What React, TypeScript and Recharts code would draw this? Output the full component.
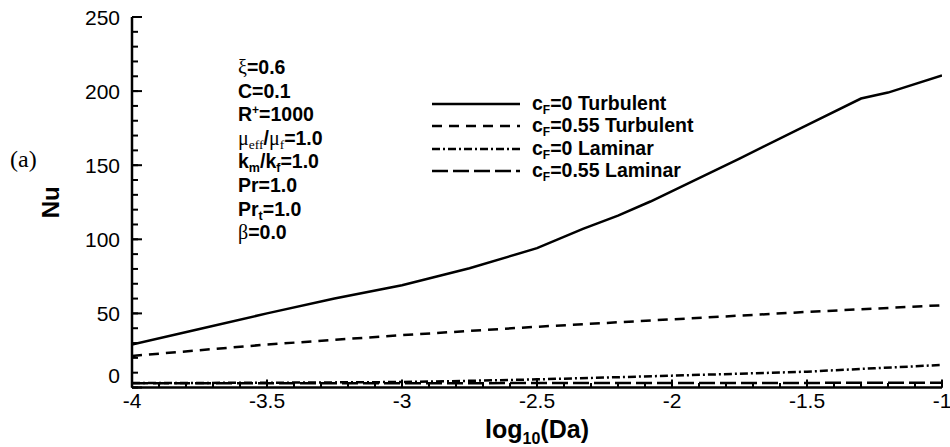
import React from "react"
import { LineChart, Line, XAxis, YAxis, Legend } from "recharts"

// log10(Da) sample points and Nu values for each case
const X_TURB_CF0 = [-4, -3.75, -3.5, -3.25, -3, -2.75, -2.5, -2.33, -2.2, -2.08, -1.75, -1.5, -1.3, -1.2, -1]
const NU_TURB_CF0 = [29, 39.5, 50, 60, 69, 80.5, 94, 107, 116, 125.5, 154.5, 177, 195, 199, 210.5]

const X_TURB_CF055 = [-4, -3.5, -3, -2.5, -2, -1.5, -1]
const NU_TURB_CF055 = [21.3, 29, 35.3, 41, 46, 51, 55.5]

const X_LAM = [-4, -3.5, -3, -2.75, -2.5, -2.25, -2, -1.75, -1.5, -1.25, -1]
const NU_LAM_CF0 = [3.0, 3.2, 3.7, 4.5, 5.5, 6.7, 8.0, 9.3, 10.7, 13, 15.2]
const NU_LAM_CF055 = [2.8, 2.8, 2.9, 2.9, 3.0, 3.0, 3.0, 3.1, 3.1, 3.2, 3.2]

const X_MAJOR = [-4, -3.5, -3, -2.5, -2, -1.5, -1]
const Y_MAJOR = [0, 50, 100, 150, 200, 250]
// minor ticks every 0.1 on x and every 10 on y
const X_TICKS = Array.from({ length: 31 }, (_, i) => Math.round((-4 + i * 0.1) * 10) / 10)
const Y_TICKS = Array.from({ length: 26 }, (_, i) => i * 10)

const PARAMS = [
  { sym: "ξ", text: "=0.6" },
  { text: "C=0.1" },
  { text: "R", sup: "+", rest: "=1000" },
  { sym: "μ", sub: "eff", rest2: "/", sym2: "μ", sub2: "f", rest: "=1.0" },
  { text: "k", sub: "m", rest2: "/k", sub2: "f", rest: "=1.0" },
  { text: "Pr=1.0" },
  { text: "Pr", sub: "t", rest: "=1.0" },
  { sym: "β", text: "=0.0" },
]

const toPoints = (xs: number[], ys: number[]) => xs.map((x, i) => ({ x, nu: ys[i] }))

const SERIES = [
  { key: "t0", cf: "0", regime: "Turbulent", dash: undefined, data: toPoints(X_TURB_CF0, NU_TURB_CF0) },
  { key: "t55", cf: "0.55", regime: "Turbulent", dash: "10 7", data: toPoints(X_TURB_CF055, NU_TURB_CF055) },
  { key: "l0", cf: "0", regime: "Laminar", dash: "8 3 2 3", data: toPoints(X_LAM, NU_LAM_CF0) },
  { key: "l55", cf: "0.55", regime: "Laminar", dash: "16 5", data: toPoints(X_LAM, NU_LAM_CF055) },
]

const SANS = "'Liberation Sans', Arial, sans-serif"
const SERIF = "'Liberation Serif', 'Times New Roman', serif"

const isMajor = (list: number[], v: number) => list.some((m) => Math.abs(m - v) < 1e-6)

// ticks point into the plot; the tick's own x/y lands on the axis line
const X_MINOR_LEN = 4.5
const X_MAJOR_LEN = 8
const Y_MINOR_LEN = 6
const Y_MAJOR_LEN = 10

function XTick({ x, y, payload }: any) {
  const v = payload.value
  if (!isMajor(X_MAJOR, v)) return <g />
  return (
    <g>
      <path d={`M${x},${y}V${y - X_MAJOR_LEN}`} stroke="#000" strokeWidth={2} fill="none" />
      <text x={x} y={y + 20} textAnchor="middle" fontSize={21} fontFamily={SANS} fill="#000">
        {String(v)}
      </text>
    </g>
  )
}

function YTick({ x, y, payload }: any) {
  const v = payload.value
  if (!isMajor(Y_MAJOR, v)) return <g />
  // the zero label is lifted so it clears the -4 label below
  const ly = v === 0 ? y - 12 : y
  return (
    <g>
      <path d={`M${x},${y}H${x + Y_MAJOR_LEN}`} stroke="#000" strokeWidth={2} fill="none" />
      <text x={x - 12} y={ly} dy="0.36em" textAnchor="end" fontSize={21} fontFamily={SANS} fill="#000">
        {String(v)}
      </text>
    </g>
  )
}

function XTitle({ viewBox }: any) {
  const cx = viewBox.x + viewBox.width / 2
  return (
    <text x={cx} y={viewBox.y + 50} textAnchor="middle" fontFamily={SANS} fontWeight="bold" fontSize={25} fill="#000">
      log<tspan fontSize={16} dy={6}>10</tspan>
      <tspan dy={-6}>(Da)</tspan>
    </text>
  )
}

function YTitle({ viewBox }: any) {
  const cx = viewBox.x - 22
  const cy = viewBox.y + viewBox.height / 2
  return (
    <text
      x={cx}
      y={cy}
      dy="0.36em"
      textAnchor="middle"
      transform={`rotate(-90, ${cx}, ${cy})`}
      fontFamily={SANS}
      fontWeight="bold"
      fontSize={24}
      fill="#000"
    >
      Nu
    </text>
  )
}

function LegendBox({ payload }: any) {
  const keys = (payload || []).map((p: any) => p.dataKey ?? p.value)
  const rows = SERIES.filter((s) => keys.length === 0 || keys.includes("nu") || keys.includes(s.key))
  return (
    <div style={{ fontFamily: SANS, fontWeight: "bold", fontSize: 19.5, color: "#000" }}>
      {rows.map((s) => (
        <div key={s.key} style={{ display: "flex", alignItems: "center", height: 22.3 }}>
          <svg width={88} height={6} style={{ display: "block" }}>
            <line x1={0} x2={88} y1={3} y2={3} stroke="#000" strokeWidth={2.5} strokeDasharray={s.dash} />
          </svg>
          <span style={{ marginLeft: 12, whiteSpace: "nowrap" }}>
            c<sub style={{ fontSize: 12, lineHeight: "12px", verticalAlign: "-4px" }}>F</sub>={s.cf} {s.regime}
          </span>
        </div>
      ))}
    </div>
  )
}

function ParamBlock() {
  const sub = { fontSize: 12.5, lineHeight: "12px", verticalAlign: "-4px" } as React.CSSProperties
  const sym = { fontFamily: SERIF, fontWeight: "normal" } as React.CSSProperties
  return (
    <div
      style={{
        position: "absolute",
        left: 238,
        top: 57,
        fontFamily: SANS,
        fontWeight: "bold",
        fontSize: 19.5,
        lineHeight: "20px",
        color: "#000",
        whiteSpace: "nowrap",
      }}
    >
      {PARAMS.map((p, i) => (
        <div key={i} style={{ height: 23.6 }}>
          {p.sym && <span style={{ ...sym, fontSize: 20 }}>{p.sym}</span>}
          {p.text}
          {p.sub && !p.sym && <sub style={sub}>{p.sub}</sub>}
          {p.sub && p.sym && <sub style={{ ...sub, ...sym, fontSize: 13.5 }}>{p.sub}</sub>}
          {p.sup && <sup style={{ fontSize: 12, lineHeight: "12px", verticalAlign: "7px" }}>{p.sup}</sup>}
          {p.rest2}
          {p.sym2 && <span style={{ ...sym, fontSize: 20 }}>{p.sym2}</span>}
          {p.sub2 && <sub style={p.sym2 ? { ...sub, ...sym, fontSize: 13.5 } : sub}>{p.sub2}</sub>}
          {p.rest}
        </div>
      ))}
    </div>
  )
}

export default function App() {
  return (
    <div style={{ position: "absolute", left: 0, top: 0, width: 950, height: 447, background: "#fff" }}>
      <LineChart width={950} height={447} margin={{ top: 17, right: 8, bottom: 29.5, left: 72 }}>
        <XAxis
          type="number"
          dataKey="x"
          domain={[-4, -1]}
          ticks={X_TICKS}
          interval={0}
          tickSize={-X_MINOR_LEN}
          tickMargin={X_MINOR_LEN}
          tickLine={{ stroke: "#000", strokeWidth: 2 }}
          tick={<XTick />}
          height={30}
          axisLine={{ stroke: "#000", strokeWidth: 2.5 }}
          allowDataOverflow
          label={<XTitle />}
        />
        <YAxis
          type="number"
          domain={[0, 250]}
          ticks={Y_TICKS}
          interval={0}
          tickSize={-Y_MINOR_LEN}
          tickMargin={Y_MINOR_LEN}
          tickLine={{ stroke: "#000", strokeWidth: 2 }}
          tick={<YTick />}
          width={60}
          axisLine={{ stroke: "#000", strokeWidth: 2.5 }}
          allowDataOverflow
          label={<YTitle />}
        />
        {SERIES.map((s) => (
          <Line
            key={s.key}
            data={s.data}
            dataKey="nu"
            name={s.key}
            type="linear"
            stroke="#000"
            strokeWidth={2.5}
            strokeDasharray={s.dash}
            dot={false}
            activeDot={false}
            isAnimationActive={false}
            legendType="line"
          />
        ))}
        <Legend
          layout="vertical"
          align="center"
          verticalAlign="middle"
          content={<LegendBox />}
          wrapperStyle={{ left: 432, top: 93, width: 300 }}
        />
      </LineChart>
      <ParamBlock />
      <div style={{ position: "absolute", left: 10, top: 146, fontFamily: SERIF, fontSize: 24, color: "#000" }}>(a)</div>
    </div>
  )
}
